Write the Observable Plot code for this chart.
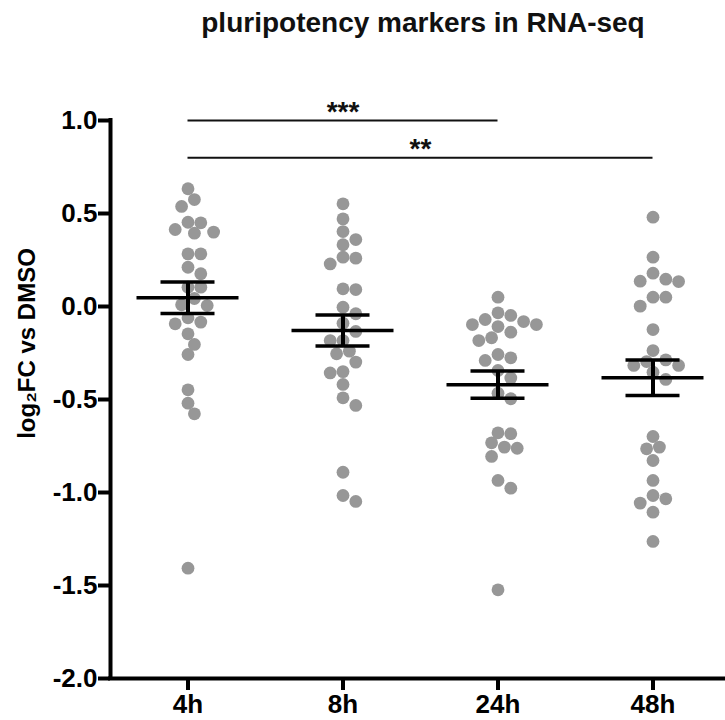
<!DOCTYPE html>
<html><head><meta charset="utf-8">
<script src="https://cdn.jsdelivr.net/npm/d3@7"></script>
<script src="https://cdn.jsdelivr.net/npm/@observablehq/plot@0.6"></script>
<style>
body{margin:0;background:#fff;font-family:"Liberation Sans",Arial,sans-serif;}
#title{height:50px;box-sizing:border-box;padding-top:9px;padding-left:121px;text-align:center;font-size:28px;line-height:28px;font-weight:bold;color:#111;white-space:nowrap}
</style></head><body>
<div id="title">pluripotency markers in RNA-seq</div>
<div id="chart"></div>
<script>
// ---- data ----
const categories = ["4h", "8h", "24h", "48h"];
const fc4h = [0.633, 0.575, 0.538, 0.45, 0.453, 0.40, 0.394, 0.414, 0.283, 0.283, 0.211, 0.176, 0.104, 0.104, 0.043, 0.005, 0.009, -0.084, -0.061, -0.093, -0.147, -0.204, -0.258, -0.448, -0.52, -0.577, -1.407];
const fc8h = [0.552, 0.471, 0.403, 0.36, 0.332, 0.26, 0.265, 0.229, 0.091, 0.095, -0.004, -0.039, -0.09, -0.134, -0.183, -0.183, -0.24, -0.254, -0.299, -0.357, -0.35, -0.419, -0.491, -0.532, -0.891, -1.016, -1.048];
const fc24h = [0.05, -0.034, -0.07, -0.048, -0.097, -0.108, -0.097, -0.081, -0.138, -0.168, -0.183, -0.258, -0.29, -0.276, -0.344, -0.385, -0.466, -0.496, -0.684, -0.679, -0.733, -0.756, -0.762, -0.806, -0.935, -0.977, -1.523];
const fc48h = [0.48, 0.265, 0.179, 0.136, 0.134, 0.147, 0.05, 0.05, 0.002, -0.124, -0.237, -0.287, -0.296, -0.317, -0.317, -0.353, -0.392, -0.699, -0.765, -0.756, -0.828, -0.935, -1.057, -1.016, -1.034, -1.106, -1.263];
const groups = [fc4h, fc8h, fc24h, fc48h];
const yTicks = [-2.0, -1.5, -1.0, -0.5, 0.0, 0.5, 1.0];
const compFrom = ["4h", "4h"];
const compTo = ["24h", "48h"];
const compLabel = ["***", "**"];
const compLevel = [1.0, 0.8];

// ---- layout ----
const W = 725, H = 670, mL = 110, mT = 70, mB = 42;
const xDomain = [-0.5, categories.length - 0.5];
const xRange = [110, 730];
const yDomain = [-2, 1];
const xs = Plot.scale({x: {domain: xDomain, range: xRange}});
const ys = Plot.scale({y: {domain: yDomain, range: [H - mB, mT]}});
const pxPerX = xs.apply(1) - xs.apply(0);
const R = 6.4, D = 2 * R * 0.92;

// beeswarm layout (computed)
const points = [];
groups.forEach((vals, i) => {
  const placed = [];
  const sorted = vals.map(v => v).sort((a, b) => b - a);
  for (const v of sorted) {
    const py = ys.apply(v);
    let off = 0;
    for (let s = 0; s < 60; s++) {
      const cand = s === 0 ? 0 : (s % 2 ? 1 : -1) * Math.ceil(s / 2) * R;
      if (placed.every(q => Math.hypot(q.ox - cand, q.py - py) >= D)) { off = cand; break; }
    }
    placed.push({ox: off, py});
    points.push({idx: i, value: v, x: i + off / pxPerX});
  }
});

const stats = groups.map((vals, i) => {
  const m = d3.mean(vals);
  const sem = d3.deviation(vals) / Math.sqrt(vals.length);
  return {idx: i, mean: m, lo: m - sem, hi: m + sem};
});

const comps = compFrom.map((f, k) => ({
  a: categories.indexOf(f), b: categories.indexOf(compTo[k]), label: compLabel[k], level: compLevel[k]
}));

const meanHalf = 51 / pxPerX, capHalf = 27 / pxPerX;
const ff = "Liberation Sans, Arial, sans-serif";

const chart = Plot.plot({
  width: W, height: H,
  marginLeft: mL, marginRight: 0, marginTop: mT, marginBottom: mB,
  x: {domain: xDomain, range: xRange},
  y: {domain: yDomain},
  style: {fontFamily: ff, color: "#000", background: "#fff", overflow: "visible"},
  marks: [
    Plot.dot(points, {x: "x", y: "value", r: R, fill: "#979797", stroke: "none"}),
    Plot.ruleY(stats, {y: "mean", x1: d => d.idx - meanHalf, x2: d => d.idx + meanHalf, stroke: "#000", strokeWidth: 3.5}),
    Plot.ruleY(stats, {y: "hi", x1: d => d.idx - capHalf, x2: d => d.idx + capHalf, stroke: "#000", strokeWidth: 3.5}),
    Plot.ruleY(stats, {y: "lo", x1: d => d.idx - capHalf, x2: d => d.idx + capHalf, stroke: "#000", strokeWidth: 3.5}),
    Plot.ruleX(stats, {x: "idx", y1: "lo", y2: "hi", stroke: "#000", strokeWidth: 4}),
    // significance brackets
    Plot.ruleY(comps, {y: "level", x1: "a", x2: "b", stroke: "#111", strokeWidth: 2}),
    Plot.text(comps, {x: d => (d.a + d.b) / 2, y: "level", text: "label", lineAnchor: "bottom", dy: 0, fill: "#111", fontSize: 28, fontWeight: "bold", fontFamily: ff}),
    // axes
    Plot.ruleX([xDomain[0]], {y1: yDomain[0], y2: yDomain[1], stroke: "#000", strokeWidth: 4, strokeLinecap: "square"}),
    Plot.ruleY([yDomain[0]], {x1: xDomain[0], x2: xDomain[1], stroke: "#000", strokeWidth: 4, strokeLinecap: "square"}),
    Plot.axisY({ticks: yTicks, tickFormat: d => d.toFixed(1), tickSize: 12, tickPadding: 1, strokeWidth: 4, label: null, fontSize: 26, fontWeight: "bold", fontFamily: ff, fill: "#000"}),
    Plot.axisX({ticks: d3.range(categories.length), tickFormat: i => categories[i], tickSize: 12, tickPadding: 4, strokeWidth: 4, label: null, fontSize: 26, fontWeight: "bold", fontFamily: ff, fill: "#000"}),
    Plot.text(["log\u2082FC vs DMSO"], {frameAnchor: "left", rotate: -90, dx: -83, dy: -56, text: d => d, textAnchor: "middle", lineAnchor: "middle", fontSize: 24, fontWeight: "bold", fontFamily: ff, fill: "#000"})
  ]
});
document.getElementById("chart").appendChild(chart);
</script>
</body></html>
